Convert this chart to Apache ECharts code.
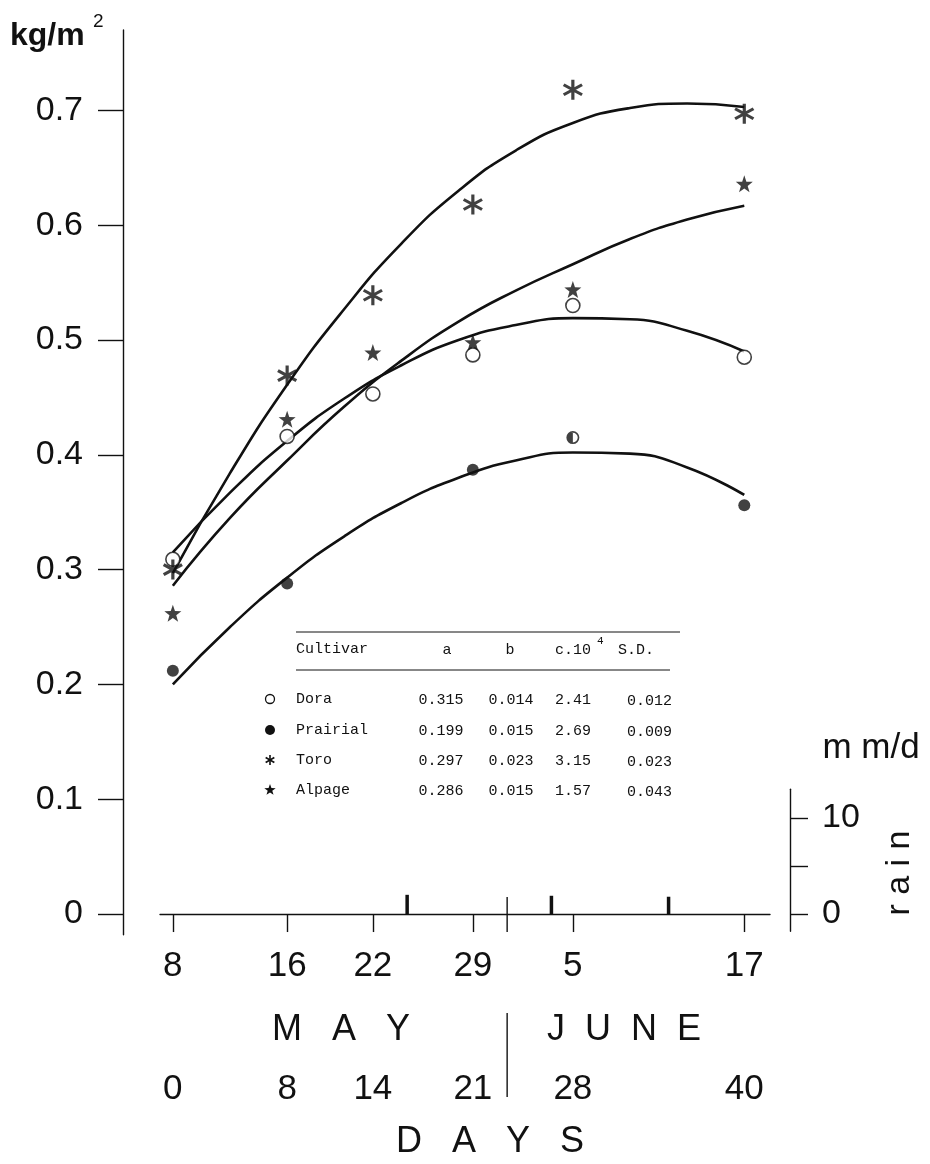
<!DOCTYPE html>
<html>
<head>
<meta charset="utf-8">
<title>Cultivars dry matter</title>
<script src="https://cdn.jsdelivr.net/npm/echarts@6/dist/echarts.min.js"></script>
<style>
  html, body { margin: 0; padding: 0; background: #fff; }
  #chart { width: 930px; height: 1164px; }
</style>
</head>
<body>
<div id="chart"></div>
<script>
// x axis: days after 8 May, with the calendar date under each tick
var dayTicks = [0, 8, 14, 21, 28, 40]
var dateLabels = ['8', '16', '22', '29', '5', '17']
var dayLabels = ['0', '8', '14', '21', '28', '40']
var yTicks = [0, 0.1, 0.2, 0.3, 0.4, 0.5, 0.6, 0.7]
var rainTicks = [0, 5, 10]
var rainLabels = [0, 10]
var monthEdge = 23.4

// measured points, [day, kg/m2]
var doraPts = [[0, 0.309], [8, 0.416], [14, 0.453], [21, 0.487], [28, 0.530], [40, 0.485]]
var prairialPts = [[0, 0.212], [8, 0.288], [21, 0.387], [28, 0.415], [40, 0.356]]
var toroPts = [[0, 0.300], [8, 0.469], [14, 0.539], [21, 0.618], [28, 0.718], [40, 0.697]]
var alpagePts = [[0, 0.262], [8, 0.431], [14, 0.489], [21, 0.498], [28, 0.544], [40, 0.636]]

// fitted curves, every 4 days
var curveDays = [0, 4, 8, 12, 16, 20, 24, 28, 32, 36, 40]
var doraCurve = [0.315, 0.367, 0.412, 0.449, 0.478, 0.500, 0.513, 0.519, 0.518, 0.508, 0.490]
var prairialCurve = [0.200, 0.250, 0.293, 0.329, 0.358, 0.380, 0.395, 0.402, 0.401, 0.389, 0.365]
var toroCurve = [0.297, 0.384, 0.461, 0.527, 0.584, 0.630, 0.665, 0.689, 0.702, 0.706, 0.703]
var alpageCurve = [0.286, 0.345, 0.395, 0.442, 0.482, 0.516, 0.543, 0.566, 0.588, 0.605, 0.617]

// rain, mm/d
var rainDays = [16.4, 26.5, 34.7]
var rainMm = [2.0, 1.9, 1.8]

// coefficient table
var cultivars = ['Dora', 'Prairial', 'Toro', 'Alpage']
var coefA = ['0.315', '0.199', '0.297', '0.286']
var coefB = ['0.014', '0.015', '0.023', '0.015']
var coefC = ['2.41', '2.69', '3.15', '1.57']
var coefSD = ['0.012', '0.009', '0.023', '0.043']

var STAR = 'M0,-10L2.35,-3.24L9.51,-3.09L3.8,1.24L5.88,8.09L0,4L-5.88,8.09L-3.8,1.24L-9.51,-3.09L-2.35,-3.24Z'
var ASTER = 'M-1.5,-10L1.5,-10L1.5,10L-1.5,10Z' +
  'M7.91,-6.30L9.41,-3.70L-7.91,6.30L-9.41,3.70Z' +
  'M9.41,3.70L7.91,6.30L-9.41,-3.70L-7.91,-6.30Z'
var HALF = 'M0,-10A10,10,0,1,1,0,10A10,10,0,1,1,0,-10Z' +
  'M0,-7.5A7.5,7.5,0,1,0,0,7.5A7.5,7.5,0,1,0,0,-7.5Z' +
  'M0,10A10,10,0,0,1,0,-10Z'

var INK = '#111'
var SANS = 'Liberation Sans'

function zip(xs, ys) {
  return xs.map(function(x, i) { return [x, ys[i]] })
}

function curve(name, ys) {
  return {
    name: name,
    type: 'line',
    xAxisIndex: 0,
    yAxisIndex: 0,
    data: zip(curveDays, ys),
    smooth: true,
    showSymbol: false,
    silent: true,
    z: 2,
    lineStyle: { color: INK, width: 2.6 }
  }
}

function points(name, data, symbol, size, fill) {
  return {
    name: name,
    type: 'scatter',
    xAxisIndex: 0,
    yAxisIndex: 0,
    data: data,
    symbol: symbol,
    symbolSize: size,
    z: 3,
    itemStyle: { color: fill, borderColor: INK, borderWidth: fill === '#fff' ? 1.6 : 0 }
  }
}

var prairialData = prairialPts.map(function(p) {
  return p[0] === 28 ? { value: p, symbol: 'path://' + HALF, symbolSize: 13 } : p
})

var chart = echarts.init(document.getElementById('chart'))

chart.setOption({
  backgroundColor: '#fff',
  animation: false,
  grid: [
    { left: 160, right: 160, top: 30, bottom: 229.3, outerBoundsMode: 'none' },
    { left: 160, right: 160, top: 789.2, bottom: 232.7, outerBoundsMode: 'none' }
  ],
  xAxis: [
    {
      gridIndex: 0,
      type: 'value',
      min: -0.9,
      max: 41.8,
      axisLine: { onZero: true, lineStyle: { color: INK, width: 1.4 } },
      axisTick: { customValues: dayTicks, length: 18, lineStyle: { color: INK, width: 1.4 } },
      axisLabel: {
        customValues: dayTicks,
        formatter: function(v) { return dateLabels[dayTicks.indexOf(v)] },
        margin: 14,
        fontSize: 35,
        lineHeight: 36,
        fontFamily: SANS,
        color: INK
      },
      splitLine: { show: false }
    },
    {
      gridIndex: 0,
      type: 'value',
      position: 'bottom',
      min: -0.9,
      max: 41.8,
      axisLine: { show: false, onZero: false },
      axisTick: { show: false },
      axisLabel: {
        customValues: dayTicks,
        formatter: function(v) { return dayLabels[dayTicks.indexOf(v)] },
        margin: 137,
        fontSize: 35,
        lineHeight: 36,
        fontFamily: SANS,
        color: INK
      },
      splitLine: { show: false }
    },
    { gridIndex: 1, type: 'value', min: -0.9, max: 41.8, show: false }
  ],
  yAxis: [
    {
      gridIndex: 0,
      type: 'value',
      position: 'left',
      offset: 37,
      min: -0.018,
      max: 0.77,
      axisLine: { show: true, onZero: false, lineStyle: { color: INK, width: 1.4 } },
      axisTick: { show: true, customValues: yTicks, length: 25, lineStyle: { color: INK, width: 1.4 } },
      axisLabel: {
        customValues: yTicks,
        formatter: function(v) { return v === 0 ? '0' : v.toFixed(1) },
        margin: 40,
        fontSize: 34,
        fontFamily: SANS,
        color: INK
      },
      splitLine: { show: false }
    },
    {
      gridIndex: 1,
      type: 'value',
      position: 'right',
      offset: 20,
      min: -1.8,
      max: 13,
      axisLine: { show: true, onZero: false, lineStyle: { color: INK, width: 1.4 } },
      axisTick: { show: true, customValues: rainTicks, length: 18, lineStyle: { color: INK, width: 1.4 } },
      axisLabel: {
        customValues: rainLabels,
        margin: 32,
        fontSize: 34,
        fontFamily: SANS,
        color: INK
      },
      splitLine: { show: false }
    }
  ],
  series: [
    curve('Dora fit', doraCurve),
    curve('Prairial fit', prairialCurve),
    curve('Toro fit', toroCurve),
    curve('Alpage fit', alpageCurve),
    points('Dora', doraPts, 'circle', 14, '#fff'),
    points('Prairial', prairialData, 'circle', 12, INK),
    points('Toro', toroPts, 'path://' + ASTER, 20, INK),
    points('Alpage', alpagePts, 'path://' + STAR, 17, INK),
    {
      name: 'rain',
      type: 'bar',
      xAxisIndex: 2,
      yAxisIndex: 1,
      data: zip(rainDays, rainMm),
      barWidth: 3.5,
      itemStyle: { color: INK }
    }
  ]
})

// annotations: units, month row, coefficient table
var g = []
function text(t, x, y, font, align, extra) {
  var el = {
    type: 'text',
    x: x,
    y: y,
    style: { text: t, font: font, fill: INK, textAlign: align || 'left', textVerticalAlign: 'middle' }
  }
  return Object.assign(el, extra || {})
}
function line(x1, y1, x2, y2, w) {
  return { type: 'line', shape: { x1: x1, y1: y1, x2: x2, y2: y2 }, style: { stroke: INK, lineWidth: w || 1 } }
}

g.push(text('kg/m', 10, 36, 'bold 32px "Liberation Sans"'))
g.push(text('2', 93, 22, '19px "Liberation Sans"'))
g.push(text('m m/d', 871, 748, '35px "Liberation Sans"', 'center'))
g.push(text('r a i n', 900, 873, '34px "Liberation Sans"', 'center', { rotation: Math.PI / 2 }))
g.push(text('M   A   Y', 341, 1030, '36px "Liberation Sans"', 'center'))
g.push(text('J  U  N  E', 624, 1030, '36px "Liberation Sans"', 'center'))
g.push(text('D   A   Y   S', 490, 1142, '36px "Liberation Sans"', 'center'))

var edgeX = chart.convertToPixel({ xAxisIndex: 0 }, monthEdge)
var zeroY = chart.convertToPixel({ yAxisIndex: 0 }, 0)
g.push(line(edgeX, zeroY - 17, edgeX, zeroY + 18, 1.4))
g.push(line(edgeX, 1013, edgeX, 1097, 1.4))

// table
var rowY = [699, 730, 760, 790]
g.push(line(296, 632, 680, 632))
g.push(line(296, 670, 670, 670))
var headFont = '15px "Liberation Mono"'
g.push(text('Cultivar', 296, 649, headFont))
g.push(text('a', 447, 650, headFont, 'center'))
g.push(text('b', 510, 650, headFont, 'center'))
g.push(text('c.10', 555, 650, headFont))
g.push(text('4', 597, 641, '11px "Liberation Mono"'))
g.push(text('S.D.', 618, 650, headFont))
cultivars.forEach(function(name, i) {
  var y = rowY[i]
  g.push(text(name, 296, y, headFont))
  g.push(text(coefA[i], 441, y + 1, headFont, 'center'))
  g.push(text(coefB[i], 511, y + 1, headFont, 'center'))
  g.push(text(coefC[i], 555, y + 1, headFont))
  g.push(text(coefSD[i], 627, y + 2, headFont))
})
g.push({ type: 'circle', shape: { cx: 270, cy: rowY[0], r: 4.5 }, style: { fill: '#fff', stroke: INK, lineWidth: 1.3 } })
g.push({ type: 'circle', shape: { cx: 270, cy: rowY[1], r: 5 }, style: { fill: INK } })
// legend asterisk: three short strokes
;[0, Math.PI / 3, 2 * Math.PI / 3].forEach(function(a) {
  var dx = 5 * Math.sin(a), dy = 5 * Math.cos(a)
  g.push(line(270 - dx, rowY[2] - dy, 270 + dx, rowY[2] + dy, 1.6))
})
// legend star
var starPts = []
for (var k = 0; k < 10; k++) {
  var r = k % 2 === 0 ? 6 : 2.4
  var ang = -Math.PI / 2 + k * Math.PI / 5
  starPts.push([270 + r * Math.cos(ang), rowY[3] + r * Math.sin(ang)])
}
g.push({ type: 'polygon', shape: { points: starPts }, style: { fill: INK } })

chart.setOption({ graphic: g })
</script>
</body>
</html>
